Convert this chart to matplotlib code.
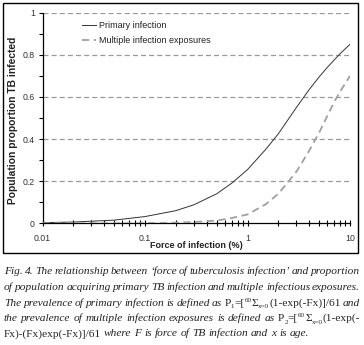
import matplotlib
matplotlib.use("Agg")
import matplotlib.pyplot as plt
from matplotlib.patches import Rectangle
from matplotlib.ticker import FixedLocator, NullFormatter, LogLocator

# ---------------- data ----------------
force_pct = [0.01, 0.02, 0.05, 0.1, 0.2, 0.3, 0.5, 0.7, 1, 1.5, 2, 3, 4, 5, 6, 7, 8, 10]
primary = [0.003, 0.006, 0.015, 0.032, 0.06, 0.088, 0.14, 0.19, 0.255, 0.35, 0.425,
           0.55, 0.635, 0.695, 0.74, 0.775, 0.805, 0.85]
multiple = [0.0, 0.0, 0.0, 0.001, 0.003, 0.006, 0.013, 0.025, 0.042, 0.09, 0.14,
            0.245, 0.345, 0.43, 0.51, 0.575, 0.625, 0.70]
series_labels = ["Primary infection", "Multiple infection exposures"]
y_ticks = [0, 0.2, 0.4, 0.6, 0.8, 1]
y_ticklabels = ["0", "0.2", "0.4", "0.6", "0.8", "1"]
x_ticks = [0.01, 0.1, 1, 10]
x_ticklabels = ["0.01", "0.1", "1", "10"]
x_title = "Force of infection (%)"
y_title = "Population proportion TB infected"

caption_lines = [
    [("Fig. 4. The relationship between \u2018force of tuberculosis infection\u2019 and proportion", "it")],
    [("of population acquiring primary TB infection and multiple infectious exposures.", "it")],
    [("The prevalence of primary infection is defined as ", "it"), ("P", "rm"), ("1", "sub"),
     ("=[", "rm"), ("60", "sup"), ("\u03a3", "rm"), ("x=0", "sub"), ("(1-exp(-Fx)]/61", "rm"),
     (" and", "it")],
    [("the prevalence of multiple infection exposures is defined as ", "it"), ("P", "rm"),
     ("2", "sub"), ("=[", "rm"), ("60", "sup"), ("\u03a3", "rm"), ("x=0", "sub"), ("(1-exp(-", "rm")],
    [("Fx)-(Fx)exp(-Fx)]/61", "rm"), (" where F is force of TB infection and x is age.", "it")],
]

# ---------------- figure ----------------
W, H = 364, 345
fig = plt.figure(figsize=(W / 100, H / 100), dpi=100)
fig.patch.set_facecolor("white")
SANS = ["Liberation Sans", "DejaVu Sans"]

def fx(x):
    return x / W

def fy(y):
    return 1 - y / H

# outer frame
fig.patches.append(Rectangle((fx(3), fy(253)), fx(358) - fx(3), fy(3) - fy(253),
                             transform=fig.transFigure, fill=False, ec="black", lw=1.0))

ax_l, ax_r, ax_t, ax_b = 42.5, 350, 12.7, 223.3
ax = fig.add_axes([fx(ax_l), fy(ax_b), fx(ax_r) - fx(ax_l), fy(ax_t) - fy(ax_b)])
ax.set_xscale("log")
ax.set_xlim(0.01, 10)
ax.set_ylim(0, 1)

for v in y_ticks[1:]:
    ax.axhline(v, color="#9a9a9a", lw=0.9, dashes=(4, 2.5), zorder=1)

ax.plot(force_pct, primary, color="#333333", lw=0.7, label=series_labels[0], zorder=3)
ax.plot(force_pct, multiple, color="#a0a0a0", lw=1.3, dashes=(4, 2.5),
        label=series_labels[1], zorder=3)

for s in ["top", "right"]:
    ax.spines[s].set_visible(False)
for s in ["left", "bottom"]:
    ax.spines[s].set_linewidth(0.9)
    ax.spines[s].set_color("black")

ax.yaxis.set_major_locator(FixedLocator(y_ticks))
ax.set_yticklabels(y_ticklabels)
ax.yaxis.set_minor_locator(FixedLocator([0.1, 0.3, 0.5, 0.7, 0.9]))
ax.xaxis.set_major_locator(FixedLocator(x_ticks))
ax.set_xticklabels(x_ticklabels)
ax.xaxis.set_minor_locator(LogLocator(base=10, subs=range(2, 10)))
ax.xaxis.set_minor_formatter(NullFormatter())

ax.tick_params(axis="y", which="both", direction="out", length=3, width=0.8, pad=2.5,
               labelsize=6.3, labelcolor="#333333")
ax.tick_params(axis="x", which="both", direction="inout", length=5, width=0.8, pad=5,
               labelsize=6.3, labelcolor="#333333")
for lab in ax.get_xticklabels() + ax.get_yticklabels():
    lab.set_family(SANS)

fig.text(fx(196), fy(246), x_title, ha="center", va="center", fontsize=6.5,
         fontweight="bold", family=SANS, color="#222222")
fig.text(fx(13), fy(120), y_title, ha="center", va="center", rotation=90, fontsize=7.4,
         fontweight="bold", family=SANS, color="#222222")

leg = ax.legend(loc="upper left",
                bbox_to_anchor=((82 - ax_l) / (ax_r - ax_l), 1 - (21.5 - ax_t) / (ax_b - ax_t)),
                bbox_transform=ax.transAxes, frameon=False, prop={"family": SANS, "size": 6.5},
                handlelength=1.5, handletextpad=0.35, labelspacing=0.62, borderpad=0,
                borderaxespad=0)
for t in leg.get_texts():
    t.set_color("#222222")

# ---------------- caption ----------------
FS = 8.2
renderer = fig.canvas.get_renderer()
base = dict(family="Liberation Serif", color="#222222")
props = {
    "it": dict(style="italic", size=FS),
    "rm": dict(style="normal", size=FS),
    "sub": dict(style="normal", size=FS * 0.62),
    "sup": dict(style="normal", size=FS * 0.62),
}
shift = {"it": 0, "rm": 0, "sub": 2.5, "sup": -4.0}

def width(s, st):
    t = fig.text(0, 0, s, **base, **props[st])
    w = t.get_window_extent(renderer).width
    t.remove()
    return w

space_w = width("a a", "it") - width("aa", "it")

def layout(segs, y, justify, x0=4.0, x1=360.0):
    words = []
    pending = False
    for text, st in segs:
        parts = text.split(" ")
        for i, p in enumerate(parts):
            if i > 0:
                pending = True
            if p == "":
                continue
            words.append((p, st, pending))
            pending = False
    widths = [width(p, st) for p, st, _ in words]
    n_sp = sum(1 for w in words if w[2])
    gap = space_w
    if justify and n_sp:
        gap = max((x1 - x0 - sum(widths)) / n_sp, 0.6 * space_w)
    x = x0
    for (p, st, sp), w in zip(words, widths):
        if sp:
            x += gap
        fig.text(fx(x), fy(y + shift[st]), p, ha="left", va="baseline", **base, **props[st])
        x += w

line_y = [273.5, 289.5, 305.5, 321, 336.5]
for i, (segs, y) in enumerate(zip(caption_lines, line_y)):
    layout(segs, y, justify=(i < len(caption_lines) - 1))

fig.savefig("out.png", dpi=100)
